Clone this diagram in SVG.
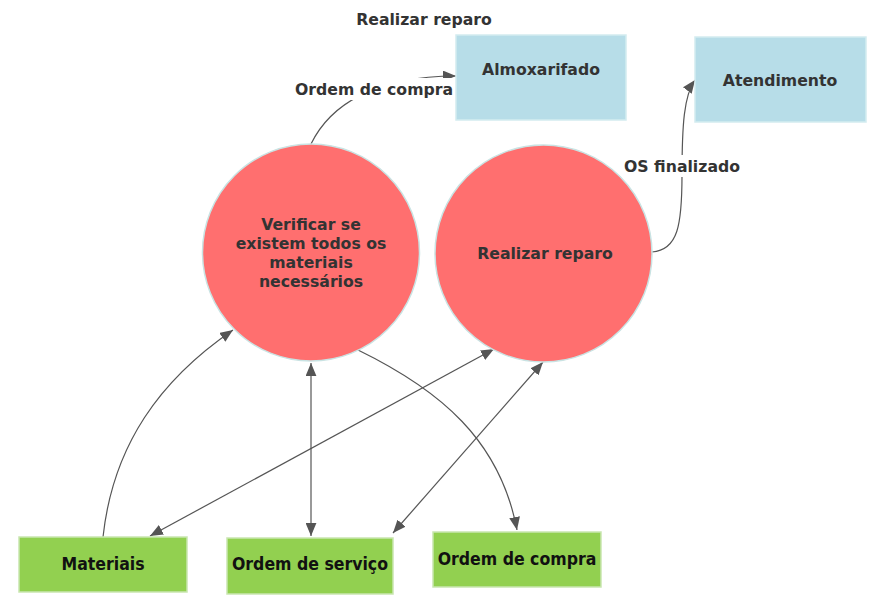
<svg xmlns="http://www.w3.org/2000/svg" width="883" height="606" viewBox="0 0 883 606">
<style>
.t{font-family:"DejaVu Sans",Verdana,sans-serif;font-weight:bold;font-size:15.7px;fill:#333;text-anchor:middle}
.g{font-family:"DejaVu Sans Condensed","DejaVu Sans",sans-serif;font-weight:bold;font-size:17.5px;fill:#111;text-anchor:middle}
.c{fill:#ff6f6f;stroke:#c9e3e3;stroke-width:1.5}
.b{fill:#b7dde8;stroke:#d3ecf0;stroke-width:1.5}
.gr{fill:#92d050;stroke:#c9e6b0;stroke-width:1.5}
.l{fill:none;stroke:#555;stroke-width:1.2}
</style>
<defs>
<marker id="a" viewBox="0 0 12 10" refX="12" refY="5" markerWidth="13" markerHeight="11" markerUnits="userSpaceOnUse" orient="auto-start-reverse">
<path d="M0,0 L12,5 L0,10 Z" fill="#555"/>
</marker>
</defs>
<g id="connectors">
<path class="l" d="M311,144 C330,105 375,76 456,76" marker-end="url(#a)"/>
<path class="l" d="M652,252 C678,250 682,225 682,175 C682,125 684,95 695,80" marker-end="url(#a)"/>
<path class="l" d="M103,537 C113,445 160,380 233,330" marker-end="url(#a)"/>
<path class="l" d="M150,536 L494,349" marker-start="url(#a)" marker-end="url(#a)"/>
<path class="l" d="M311,536 L311,363" marker-start="url(#a)" marker-end="url(#a)"/>
<path class="l" d="M393,533 L543,362" marker-start="url(#a)" marker-end="url(#a)"/>
<path class="l" d="M358,350 C440,390 500,440 517,530" marker-end="url(#a)"/>
</g>
<g id="labels">
<text class="t" x="424" y="25">Realizar reparo</text>
<rect x="294" y="78" width="160" height="22" fill="#fff"/>
<text class="t" x="374" y="95">Ordem de compra</text>
<rect x="622" y="155" width="120" height="22" fill="#fff"/>
<text class="t" x="682" y="172">OS finalizado</text>
</g>
<g id="almoxarifado">
<rect class="b" x="456" y="35" width="170" height="85"/>
<text class="t" x="541" y="75">Almoxarifado</text>
</g>
<g id="atendimento">
<rect class="b" x="695" y="37" width="171" height="85"/>
<text class="t" x="780" y="86">Atendimento</text>
</g>
<g id="verificar">
<circle class="c" cx="311" cy="252.5" r="108.5"/>
<text class="t" x="311" y="230">Verificar se</text>
<text class="t" x="311" y="249">existem todos os</text>
<text class="t" x="311" y="268">materiais</text>
<text class="t" x="311" y="287">necessários</text>
</g>
<g id="realizar">
<circle class="c" cx="543.5" cy="253.5" r="108.5"/>
<text class="t" x="545" y="259">Realizar reparo</text>
</g>
<g id="materiais">
<rect class="gr" x="19" y="537" width="168" height="55"/>
<text class="g" x="103" y="570">Materiais</text>
</g>
<g id="ordem-servico">
<rect class="gr" x="227" y="538" width="166" height="56"/>
<text class="g" x="310" y="570">Ordem de serviço</text>
</g>
<g id="ordem-compra">
<rect class="gr" x="433" y="532" width="168" height="55"/>
<text class="g" x="517" y="565">Ordem de compra</text>
</g>
</svg>
